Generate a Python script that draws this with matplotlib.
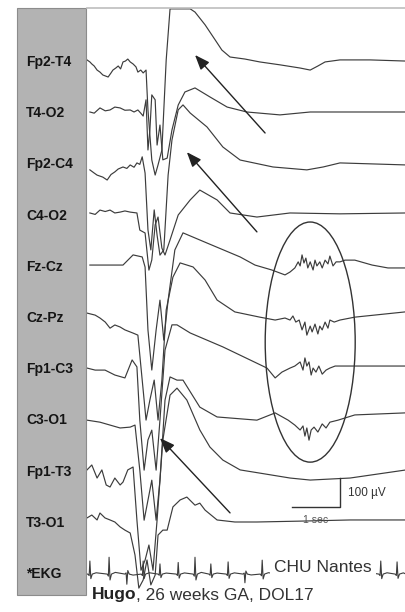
import matplotlib
matplotlib.use("Agg")
import matplotlib.pyplot as plt
import matplotlib.transforms as mtransforms
from matplotlib.patches import Rectangle, Ellipse

plt.rcParams['font.family'] = ['Liberation Sans', 'DejaVu Sans']

# channel labels, top to bottom
channels = ["Fp2-T4", "T4-O2", "Fp2-C4", "C4-O2", "Fz-Cz", "Cz-Pz",
            "Fp1-C3", "C3-O1", "Fp1-T3", "T3-O1", "*EKG"]

# EEG traces: time (s), amplitude (uV) relative to channel baseline
fp2_t4_t = [0, 0.06, 0.10, 0.15, 0.21, 0.27, 0.33, 0.44, 0.50, 0.54, 0.60, 0.65, 0.70, 0.75,
            0.80, 0.85, 0.90, 0.96, 1.02, 1.06, 1.12, 1.17, 1.23, 1.27,
            1.35, 1.42, 1.48, 1.56, 1.65, 1.73, 2.15, 2.25, 2.46, 2.67, 2.81, 2.98, 3.29,
            3.60, 4.02, 4.44, 4.65, 4.81, 4.96, 5.27, 5.90, 6.65]
fp2_t4_uv = [7, 0, -7, -14, -28, -35, -45, -52, -38, -28, -21, -14, -24, 0,
             3, 10, 0, -7, -17, -35, -28, -38, -28, -166,
             -338, -390, -355, -304, 7, 183, 183, 172, 128, 76, 41, 17, 10,
             0, -10, -21, -28, -14, 0, 7, 7, 3]

t4_o2_t = [0.06, 0.15, 0.27, 0.38, 0.48, 0.58, 0.69, 0.79, 0.90, 0.98, 1.06, 1.12, 1.17, 1.23,
           1.27, 1.31, 1.35, 1.42, 1.46, 1.52,
           1.58, 1.67, 1.77, 1.90, 2.04, 2.25, 2.56, 2.92, 3.33, 4.02, 4.65, 5.625, 6.65]
t4_o2_uv = [4, 0, 18, 8, 11, 21, 18, 10, 11, 4, 11, 0, -10, 46,
            -127, -58, 63, 46, -110, -41,
            -161, -155, -58, 28, 73, 87, 56, 21, 4, -6, 4, 4, 4]

fp2_c4_t = [0.06, 0.15, 0.21, 0.33, 0.42, 0.50, 0.58, 0.65, 0.75, 0.83, 0.90, 0.98, 1.04, 1.10,
            1.15, 1.21, 1.27, 1.33, 1.40, 1.46, 1.52,
            1.60, 1.69, 1.77, 1.90, 2.00, 2.15, 2.50, 2.83, 3.19, 3.875, 4.58, 4.92, 5.27, 6.65]
fp2_c4_uv = [-19, -30, -37, -44, -54, -35, -26, -16, -9, -14, -2, -10, 5, 0,
             26, -30, -226, -295, -157, -244, -313,
             -295, -37, 84, 188, 205, 177, 129, 60, 15, -9, -19, -9, 5, -2]

c4_o2_t = [0.06, 0.17, 0.27, 0.38, 0.48, 0.58, 0.69, 0.79, 0.90, 1.04, 1.10, 1.21, 1.29,
           1.35, 1.42, 1.48, 1.56, 1.625,
           1.73, 1.90, 2.15, 2.35, 2.71, 2.98, 3.54, 4.23, 5.27, 6.65]
c4_o2_uv = [9, 4, 19, 14, 19, 9, 12, 16, 12, 9, -50, -60, -188,
            -153, -32, -5, -112, -136,
            -84, 2, 54, 88, 54, 9, -5, 9, 6, 9]

fz_cz_t = [0.06, 0.48, 0.75, 0.96, 1.15, 1.21, 1.27, 1.35, 1.44, 1.52,
           1.60, 1.69, 1.83, 2.00, 2.50, 3.19, 3.50, 3.85,
           4.125, 4.23, 4.33, 4.40, 4.44, 4.48, 4.52, 4.56, 4.60, 4.65,
           4.71, 4.75, 4.79, 4.85, 4.90, 4.96, 5.02, 5.06, 5.125, 5.19,
           5.27, 5.375, 5.58, 5.94, 6.27, 6.625]
fz_cz_uv = [6, 6, 6, 41, 34, -1, -218, -356, -218, -115,
            -253, -115, 58, 117, 82, 34, 6, -11,
            -28, -18, -4, 17, 3, 41, 13, 30, -4, 17,
            -11, 23, 3, 17, -4, 23, 10, 37, 3, 17,
            17, 23, 23, 6, -4, -4]

cz_pz_t = [0, 0.17, 0.27, 0.38, 0.48, 0.58, 0.69, 0.79, 0.96, 1.06,
           1.15, 1.23, 1.31, 1.40, 1.48, 1.56, 1.65, 1.79, 1.94, 2.21,
           2.46, 2.71, 3.08, 3.60, 3.92, 4.125, 4.23, 4.29, 4.35, 4.42,
           4.48, 4.54, 4.58, 4.65, 4.69, 4.75, 4.81, 4.85, 4.90, 4.96,
           5.02, 5.06, 5.15, 5.27, 5.58, 6.625]
cz_pz_uv = [17, 10, 0, -14, -35, -24, -31, -41, -52, -59,
            -214, -352, -283, -214, -352, -214, 28, 141, 190, 176,
            131, 62, 21, 3, -7, 0, -7, 7, -14, -7,
            -41, -14, -59, -28, -48, -21, -55, -28, -41, -14,
            -35, -7, -14, -7, 3, 21]

fp1_c3_t = [0, 0.17, 0.375, 0.58, 0.79, 0.94, 1.04, 1.10, 1.19, 1.27,
            1.35, 1.44, 1.52, 1.625, 1.77, 1.875, 2.15, 2.83, 3.75, 3.92,
            4.06, 4.23, 4.33, 4.44, 4.50, 4.54, 4.58, 4.625, 4.67, 4.71,
            4.77, 4.83, 4.90, 4.98, 5.06, 5.17, 5.58, 6.625]
fp1_c3_uv = [4, -3, -3, -20, -30, 32, 8, -175, -348, -244,
             -210, -348, -175, 66, 153, 153, 125, 77, 4, -30,
             -10, 4, 11, 25, -3, 39, 11, 25, -20, 4,
             -10, 11, -17, -3, 4, 11, 11, 11]

c3_o1_t = [0, 0.27, 0.48, 0.69, 0.90, 1.00, 1.10, 1.19, 1.27, 1.35,
           1.44, 1.52, 1.625, 1.73, 1.875, 2.00, 2.35, 2.71, 3.54, 3.92,
           4.19, 4.33, 4.44, 4.50, 4.54, 4.58, 4.625, 4.67, 4.73, 4.81,
           4.90, 4.98, 5.06, 5.23, 5.58, 6.625]
c3_o1_uv = [1, -6, -16, -26, -23, -16, -171, -344, -275, -206,
            -344, -206, 70, 150, 139, 139, 46, 12, 1, 26,
            1, -16, -33, -19, -54, -26, -68, -33, -23, -40,
            -12, -26, -6, 1, 19, 26]

fp1_t3_t = [0, 0.10, 0.21, 0.31, 0.40, 0.48, 0.58, 0.69, 0.75, 0.85, 0.96, 1.04, 1.125, 1.21,
            1.29, 1.375, 1.46, 1.58, 1.73, 1.875, 2.08, 2.35, 2.56, 2.83, 3.19, 3.60, 4.23,
            4.65, 5.48, 6.65]
fp1_t3_uv = [6, 23, -22, 6, -46, -53, -22, -46, -36, 6, 16, -167, -340, -305,
             -253, -340, -167, 109, 264, 288, 247, 144, 85, 40, 6, -5, -22,
             -29, -22, 6]

t3_o1_t = [0, 0.10, 0.21, 0.27, 0.375, 0.48, 0.58, 0.69, 0.79, 0.90, 1.00, 1.08, 1.17, 1.25,
           1.33, 1.42, 1.48, 1.58, 1.67, 1.79, 1.94, 2.08, 2.25, 2.35, 2.46, 2.71, 3.08,
           3.54, 4.44, 5.48, 6.65]
t3_o1_uv = [17, 27, 10, 34, 17, 10, 3, -14, -25, -35, -111, -225, -197, -128,
            -214, -180, -42, -25, -25, 55, 79, 89, 61, 68, 44, 10, 3,
            3, 6, 10, 10]

# EKG: beat times (s) and R-wave heights (uV), plus one beat's shape
ekg_beats = [0.06, 0.46, 0.83, 1.17, 1.52, 1.90, 2.25, 2.58, 2.94, 3.29, 3.65,
             4.00, 4.35, 4.71, 5.06, 5.42, 5.77, 6.12, 6.46]
ekg_heights = [45, 58, -35, 45, 35, 40, 58, 35, 42, -30, 48,
               45, 45, 45, 45, 45, 45, 45, 42]
beat_dt = [-0.04, -0.015, 0.0, 0.02, 0.05, 0.13]
beat_shape = [0.0, -0.12, 1.0, -0.35, 0.0, 0.1]

eeg = [(fp2_t4_t, fp2_t4_uv), (t4_o2_t, t4_o2_uv), (fp2_c4_t, fp2_c4_uv),
       (c4_o2_t, c4_o2_uv), (fz_cz_t, fz_cz_uv), (cz_pz_t, cz_pz_uv),
       (fp1_c3_t, fp1_c3_uv), (c3_o1_t, c3_o1_uv), (fp1_t3_t, fp1_t3_uv),
       (t3_o1_t, t3_o1_uv)]

W, H = 406, 612
spacing = 176.6          # uV between channel baselines
trace_color = "#3c3c3c"

fig = plt.figure(figsize=(W / 100, H / 100), dpi=100)
fig.patch.set_facecolor("white")

# grey label panel (drawn behind the axes and its labels)
fig.patches.append(Rectangle((17 / W, 17 / H), 69 / W, 587 / H, transform=fig.transFigure,
                             facecolor="#b3b3b3", edgecolor="#8c8c8c", lw=0.8, zorder=-1))

ax = fig.add_axes([87 / W, 0, (W - 87) / W, (H - 8) / H])
ax.set_xlim(0, 319 / 48)
ax.set_ylim(186 - 604 / 0.29, 186)
ax.set_xticks([])
ax.set_yticks([])
for s in ["left", "right", "bottom"]:
    ax.spines[s].set_visible(False)
ax.spines["top"].set_color("#bdbdbd")
ax.spines["top"].set_linewidth(1.2)
ax.patch.set_alpha(0)

for i, (t, uv) in enumerate(eeg):
    off = -i * spacing
    ax.plot(t, [v + off for v in uv], color=trace_color, lw=0.85, zorder=2)

# EKG trace built from beats
ekg_t, ekg_v = [0.0], [0.0]
for bt, h in zip(ekg_beats, ekg_heights):
    for dt, s in zip(beat_dt, beat_shape):
        if 0 <= bt + dt <= 319 / 48:
            ekg_t.append(bt + dt)
            ekg_v.append(h * s)
ekg_t.append(319 / 48)
ekg_v.append(0.0)
off = -10 * spacing
ax.plot(ekg_t, [v + off for v in ekg_v], color=trace_color, lw=0.8, zorder=2)

# channel labels in the grey panel
lab_tr = mtransforms.blended_transform_factory(fig.transFigure, ax.transData)
for i, name in enumerate(channels):
    ax.text(26 / W, -i * spacing, name, transform=lab_tr, ha="left", va="center",
            fontsize=10, fontweight="bold", color="#151515", clip_on=False, zorder=6)

# arrows
arrows = [((3.71, -245), (2.25, 24)), ((3.54, -586), (2.08, -311)), ((2.98, -1555), (1.52, -1297))]
for tail, tip in arrows:
    ax.annotate("", xy=tip, xytext=tail,
                arrowprops=dict(arrowstyle="-|>,head_length=0.9,head_width=0.35",
                                color="#222222", lw=1.0, shrinkA=0, shrinkB=0), zorder=4)

# ellipse around the oscillations
ax.add_patch(Ellipse((4.65, -966), 1.875, 828, fill=False, edgecolor="#333333", lw=1.0, zorder=3))

# calibration bar
ax.plot([4.27, 5.27, 5.27], [-1535, -1535, -1435], color="#333333", lw=1.0, zorder=3)
ax.text(5.44, -1486, "100 \u00b5V", fontsize=8.5, color="#333333", va="center", ha="left")
ax.text(4.77, -1578, "1 sec", fontsize=7.5, color="#555555", va="center", ha="center")

ax.text(3.9, -1745, "CHU Nantes", fontsize=12.5, color="#333333", va="center", ha="left",
        zorder=5, bbox=dict(boxstyle="square,pad=0.25", facecolor="white", edgecolor="none"))

# caption with bold name
t1 = fig.text(92 / W, 17 / H, "Hugo", fontsize=12.5, fontweight="bold", color="#222222",
              va="center", ha="left")
fig.canvas.draw()
bb = t1.get_window_extent()
fig.text(bb.x1 / W, 17 / H, ", 26 weeks GA, DOL17", fontsize=12.5, color="#333333",
         va="center", ha="left")

fig.savefig("out.png", dpi=100)
